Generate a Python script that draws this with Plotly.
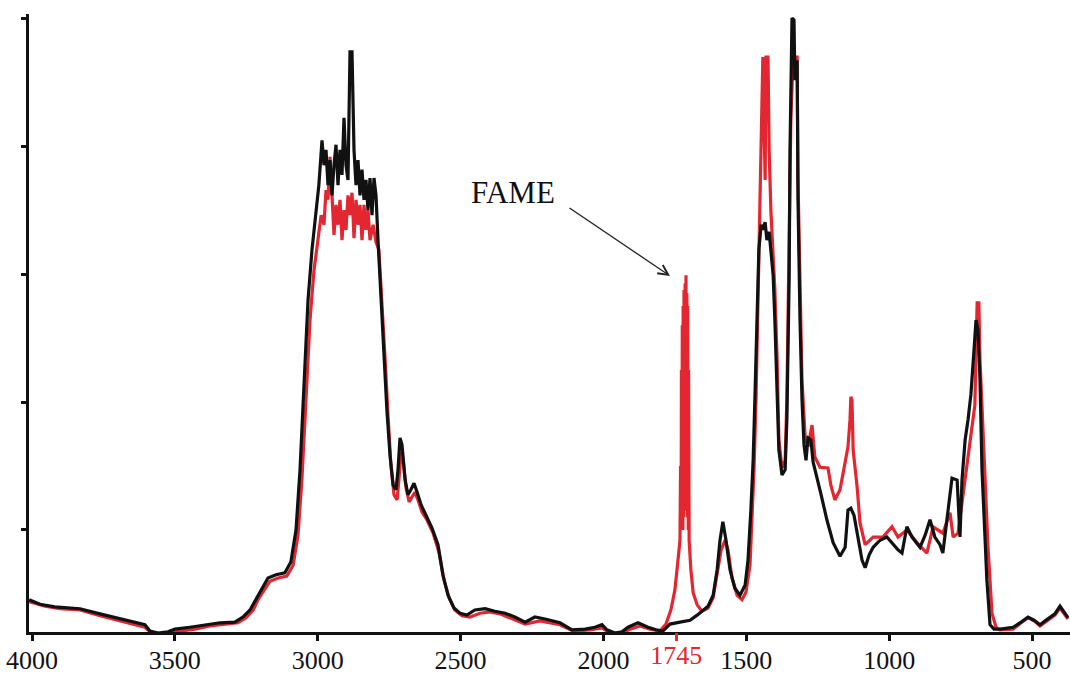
import plotly.graph_objects as go

# ---- data (wavenumber cm-1, absorbance a.u.) ----
black_wn = [4010, 3972, 3920, 3832, 3762, 3692, 3640, 3605, 3587, 3559, 3524, 3500, 3447, 3395, 3342, 3290,
            3262, 3237, 3216, 3195, 3174, 3146, 3115, 3094, 3076, 3062, 3048, 3034, 3020, 3006, 2996, 2985,
            2978, 2971, 2964, 2957, 2950, 2943, 2936, 2929, 2922, 2915, 2908, 2901, 2894, 2887, 2880, 2873,
            2866, 2859, 2852, 2845, 2838, 2831, 2824, 2817, 2810, 2803, 2796, 2789, 2778, 2768, 2758, 2747,
            2736, 2726, 2719, 2712, 2705, 2694, 2684, 2674, 2663, 2652, 2638, 2621, 2600, 2579, 2562, 2544,
            2523, 2502, 2478, 2450, 2414, 2380, 2344, 2310, 2274, 2240, 2204, 2152, 2110, 2064, 2030, 2005,
            1988, 1960, 1935, 1914, 1879, 1844, 1816, 1792, 1767, 1732, 1697, 1672, 1652, 1634, 1616, 1602,
            1592, 1582, 1571, 1557, 1540, 1522, 1504, 1494, 1484, 1476, 1470, 1462, 1456, 1448, 1442, 1434,
            1428, 1420, 1414, 1406, 1400, 1392, 1386, 1375, 1364, 1358, 1350, 1347, 1344, 1340, 1333, 1330,
            1322, 1319, 1312, 1305, 1298, 1291, 1284, 1274, 1266, 1252, 1238, 1218, 1196, 1172, 1154, 1144,
            1134, 1123, 1109, 1095, 1084, 1070, 1056, 1032, 1008, 990, 969, 955, 938, 920, 892, 874,
            857, 840, 822, 812, 798, 787, 780, 762, 752, 745, 734, 724, 714, 703, 696, 689,
            682, 675, 668, 658, 647, 633, 612, 566, 538, 514, 493, 472, 454, 437, 420, 402,
            388, 374]
black_ab = [0.091, 0.084, 0.080, 0.077, 0.069, 0.061, 0.056, 0.052, 0.042, 0.039, 0.041, 0.045, 0.048, 0.052, 0.055, 0.056,
            0.064, 0.075, 0.091, 0.109, 0.125, 0.130, 0.133, 0.150, 0.200, 0.294, 0.419, 0.559, 0.638, 0.692, 0.739, 0.809,
            0.770, 0.794, 0.739, 0.778, 0.723, 0.770, 0.802, 0.739, 0.794, 0.755, 0.844, 0.770, 0.747, 0.947, 0.947, 0.794,
            0.739, 0.778, 0.723, 0.763, 0.716, 0.747, 0.700, 0.750, 0.692, 0.750, 0.723, 0.653, 0.559, 0.466, 0.388, 0.317,
            0.270, 0.263, 0.294, 0.344, 0.333, 0.278, 0.255, 0.263, 0.273, 0.259, 0.239, 0.223, 0.203, 0.177, 0.130, 0.098,
            0.078, 0.070, 0.067, 0.075, 0.077, 0.073, 0.070, 0.064, 0.056, 0.064, 0.061, 0.055, 0.044, 0.045, 0.048, 0.052,
            0.044, 0.039, 0.041, 0.048, 0.055, 0.048, 0.044, 0.042, 0.053, 0.056, 0.059, 0.067, 0.075, 0.081, 0.098, 0.138,
            0.184, 0.213, 0.184, 0.138, 0.109, 0.098, 0.114, 0.153, 0.231, 0.309, 0.403, 0.528, 0.638, 0.677, 0.669, 0.681,
            0.653, 0.666, 0.638, 0.598, 0.528, 0.419, 0.325, 0.286, 0.294, 0.372, 0.591, 0.794, 0.934, 1.000, 0.997, 0.903,
            0.934, 0.716, 0.528, 0.403, 0.333, 0.309, 0.344, 0.341, 0.306, 0.278, 0.255, 0.216, 0.180, 0.159, 0.173, 0.231,
            0.234, 0.223, 0.189, 0.153, 0.141, 0.161, 0.173, 0.184, 0.189, 0.180, 0.169, 0.164, 0.205, 0.189, 0.173, 0.192,
            0.216, 0.189, 0.177, 0.164, 0.216, 0.263, 0.281, 0.278, 0.189, 0.278, 0.341, 0.372, 0.411, 0.481, 0.528, 0.513,
            0.434, 0.294, 0.211, 0.122, 0.052, 0.045, 0.045, 0.048, 0.056, 0.064, 0.059, 0.052, 0.058, 0.063, 0.069, 0.081,
            0.072, 0.063]

red_wn = [4010, 3954, 3902, 3832, 3762, 3692, 3640, 3605, 3587, 3552, 3517, 3482, 3430, 3377, 3324, 3279,
          3251, 3226, 3209, 3188, 3167, 3139, 3108, 3086, 3069, 3055, 3041, 3027, 3013, 2999, 2988, 2978,
          2971, 2964, 2957, 2950, 2943, 2936, 2929, 2922, 2915, 2908, 2901, 2894, 2887, 2880, 2873, 2866,
          2859, 2852, 2845, 2838, 2831, 2824, 2817, 2806, 2796, 2786, 2775, 2764, 2754, 2744, 2733, 2722,
          2716, 2708, 2702, 2691, 2680, 2670, 2660, 2649, 2635, 2618, 2596, 2576, 2558, 2540, 2520, 2495,
          2467, 2432, 2397, 2362, 2320, 2274, 2222, 2152, 2106, 2047, 2005, 1977, 1935, 1907, 1872, 1837,
          1802, 1781, 1764, 1750, 1739,
          1732, 1730, 1728, 1727, 1725, 1724, 1722, 1721, 1719, 1718, 1716, 1714, 1713, 1711, 1710, 1708,
          1706, 1705, 1703, 1702, 1700,
          1694, 1686, 1672, 1655, 1634, 1616, 1602, 1588, 1574, 1564, 1550, 1532, 1515, 1501, 1487, 1480, 1473,
          1466, 1459, 1452, 1445, 1442, 1434, 1431, 1424, 1420, 1414, 1406, 1400, 1392, 1386, 1375, 1364,
          1358, 1350, 1344, 1336, 1330, 1322, 1319, 1312, 1305, 1294, 1284, 1270, 1260, 1242, 1214, 1204,
          1190, 1172, 1154, 1144, 1137, 1134, 1130, 1126, 1112, 1102, 1084, 1056, 1022, 990, 969, 938,
          902, 868, 846, 812, 787, 776, 759, 742, 728, 710, 700, 692, 686, 682, 675, 664,
          654, 640, 626, 612, 566, 538, 514, 493, 472, 454, 437, 420, 402, 388, 374]
red_ab = [0.088, 0.081, 0.077, 0.075, 0.066, 0.058, 0.053, 0.048, 0.041, 0.038, 0.039, 0.042, 0.045, 0.050, 0.053, 0.055,
          0.063, 0.075, 0.091, 0.106, 0.120, 0.125, 0.128, 0.145, 0.192, 0.281, 0.403, 0.528, 0.606, 0.653, 0.692, 0.677,
          0.731, 0.716, 0.783, 0.723, 0.661, 0.708, 0.677, 0.716, 0.653, 0.700, 0.669, 0.723, 0.692, 0.727, 0.656, 0.716,
          0.677, 0.708, 0.653, 0.708, 0.669, 0.700, 0.653, 0.677, 0.650, 0.638, 0.559, 0.466, 0.380, 0.302, 0.255, 0.247,
          0.278, 0.322, 0.313, 0.266, 0.244, 0.252, 0.259, 0.247, 0.228, 0.216, 0.195, 0.166, 0.122, 0.094, 0.075, 0.066,
          0.064, 0.070, 0.072, 0.069, 0.061, 0.053, 0.058, 0.052, 0.042, 0.044, 0.047, 0.039, 0.039, 0.045, 0.050, 0.045,
          0.042, 0.053, 0.075, 0.106, 0.153,
          0.184, 0.300, 0.200, 0.450, 0.215, 0.520, 0.200, 0.550, 0.220, 0.575, 0.250, 0.585, 0.230, 0.598, 0.240, 0.570,
          0.220, 0.550, 0.200, 0.450, 0.184,
          0.138, 0.102, 0.083, 0.073, 0.078, 0.094, 0.130, 0.169, 0.184, 0.169, 0.125, 0.098, 0.091, 0.103, 0.145, 0.216, 0.294,
          0.403, 0.559, 0.716, 0.841, 0.939, 0.747, 0.939, 0.939, 0.794, 0.700, 0.630, 0.575, 0.466, 0.341, 0.297, 0.309,
          0.403, 0.638, 0.841, 0.939, 0.939, 0.939, 0.747, 0.559, 0.434, 0.345, 0.330, 0.364, 0.314, 0.298, 0.297, 0.270,
          0.247, 0.263, 0.305, 0.330, 0.372, 0.408, 0.403, 0.325, 0.267, 0.211, 0.177, 0.189, 0.189, 0.205, 0.189, 0.200,
          0.180, 0.164, 0.205, 0.195, 0.227, 0.189, 0.195, 0.252, 0.305, 0.356, 0.395, 0.555, 0.555, 0.466, 0.392, 0.289,
          0.173, 0.070, 0.048, 0.044, 0.045, 0.055, 0.063, 0.058, 0.050, 0.056, 0.061, 0.067, 0.078, 0.070, 0.061]

tick_vals = [4000, 3500, 3000, 2500, 2000, 1500, 1000, 500]
tick_text = ["4000", "3500", "3000", "2500", "2000", "1500", "1000", "500"]
marked_vals = [1745]
marked_text = ["1745"]
y_ticks = [0.2, 0.4, 0.6, 0.8, 1.0]

fame_label = "FAME"
fame_tip = (1767, 0.597)
fame_text_pos = (2316, 0.727)

RED = "#e3262f"
BLACK = "#111111"
FONT = "Liberation Serif"
x_range = [4010.5, 367]
y_range = [0.0406, 1.0063]

fig = go.Figure()
fig.add_trace(go.Scatter(x=red_wn, y=red_ab, mode="lines",
                         line=dict(color=RED, width=3.2), showlegend=False, hoverinfo="skip"))
fig.add_trace(go.Scatter(x=black_wn, y=black_ab, mode="lines",
                         line=dict(color=BLACK, width=3.2), showlegend=False, hoverinfo="skip"))
# invisible traces binding the overlay axes (tick marks / red 1745 label)
for ax in ["x2", "x3", "x4"]:
    fig.add_trace(go.Scatter(x=[marked_vals[0]], y=[y_range[0]], mode="markers", xaxis=ax,
                             marker=dict(opacity=0), showlegend=False, hoverinfo="skip"))

common = dict(range=x_range, showgrid=False, zeroline=False, automargin=False)
label_font = dict(family=FONT, size=26)

fig.update_layout(
    width=1070, height=673,
    margin=dict(l=29, r=0, t=14, b=41, autoexpand=False),
    paper_bgcolor="white", plot_bgcolor="white",
    font=dict(family=FONT, color=BLACK),
    # main axis: line + black labels (no marks, so labels sit close)
    xaxis=dict(**common, showline=True, linecolor=BLACK, linewidth=3,
               ticks="", ticklabelstandoff=3,
               tickvals=tick_vals, ticktext=tick_text,
               tickfont=dict(**label_font, color=BLACK)),
    # red 1745 label
    xaxis2=dict(**common, overlaying="x", anchor="y", side="bottom", showline=False,
                ticks="", ticklabelstandoff=5,
                tickvals=marked_vals, ticktext=marked_text,
                tickfont=dict(**label_font, color=RED)),
    # black tick marks
    xaxis3=dict(**common, overlaying="x", anchor="y", side="bottom", showline=False,
                ticks="outside", ticklen=8, tickwidth=3, tickcolor=BLACK,
                tickvals=tick_vals, showticklabels=False),
    # red tick mark
    xaxis4=dict(**common, overlaying="x", anchor="y", side="bottom", showline=False,
                ticks="outside", ticklen=8, tickwidth=3, tickcolor=RED,
                tickvals=marked_vals, showticklabels=False),
    yaxis=dict(range=y_range, showgrid=False, zeroline=False, automargin=False,
               showline=True, linecolor=BLACK, linewidth=3,
               ticks="outside", ticklen=5, tickwidth=3, tickcolor=BLACK,
               tickvals=y_ticks, showticklabels=False),
)

fig.add_annotation(x=fame_tip[0], y=fame_tip[1], xref="x", yref="y", text="",
                   showarrow=True, ax=-102, ay=-69, axref="pixel", ayref="pixel",
                   arrowhead=5, arrowsize=1.5, arrowwidth=1.3, arrowcolor="#222222")
fig.add_annotation(x=fame_text_pos[0], y=fame_text_pos[1], xref="x", yref="y",
                   text=fame_label, showarrow=False,
                   font=dict(family=FONT, size=31, color=BLACK))

fig.write_html("out.html", config={"displayModeBar": False},
               post_script="document.body.style.margin='0px';document.body.style.overflow='hidden';")
